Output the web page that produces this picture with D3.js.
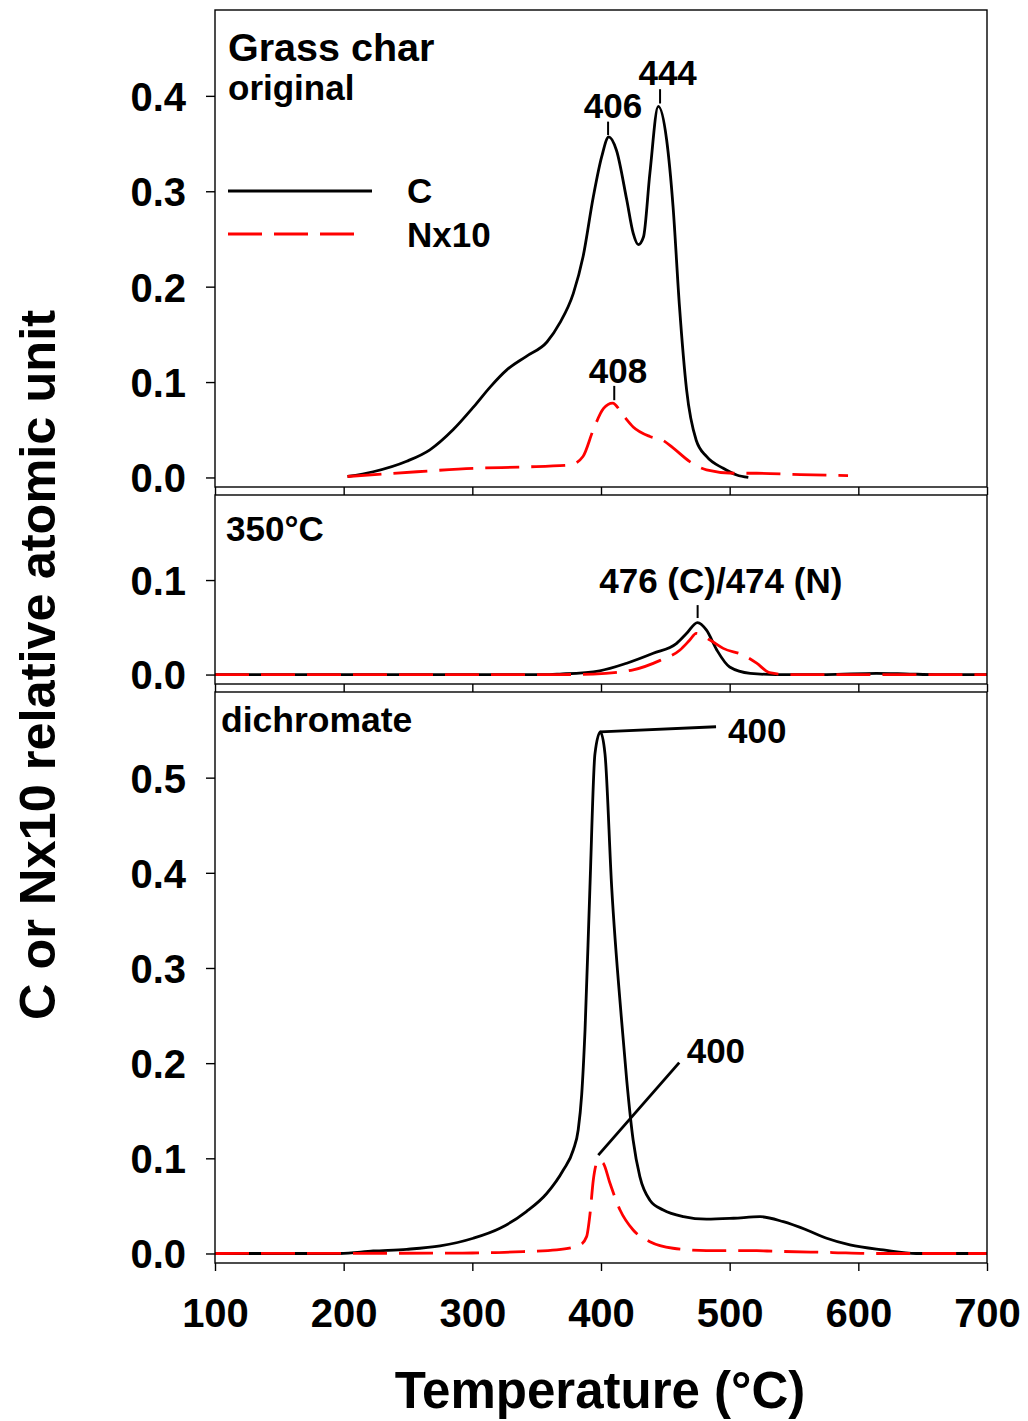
<!DOCTYPE html>
<html>
<head>
<meta charset="utf-8">
<script src="https://cdn.jsdelivr.net/npm/d3@7"></script>
<style>
  body { margin: 0; background: #fff; }
  svg { display: block; font-family: "Liberation Sans", Arial, sans-serif; font-weight: bold; }
</style>
</head>
<body>
<svg width="1028" height="1421"></svg>
<script>
'use strict'

// ---- data: [temperature °C, relative atomic unit] ----
const xTicks = [100, 200, 300, 400, 500, 600, 700];

const origC = [
  [203, 0.001], [223, 0.006], [249, 0.017], [267, 0.029], [285, 0.05], [301, 0.074],
  [314, 0.095], [327, 0.113], [342, 0.127], [358, 0.142], [368, 0.162], [378.5, 0.193],
  [386, 0.231], [394, 0.294], [400.5, 0.336], [406, 0.357], [412, 0.343], [420, 0.291],
  [425, 0.256], [429, 0.244], [433, 0.252], [438, 0.319], [444.5, 0.389], [451, 0.354],
  [456, 0.284], [461, 0.179], [466.5, 0.092], [474, 0.039], [482, 0.022], [495, 0.0096],
  [505.5, 0.0026], [514.5, 0.0]
];
const origN = [
  [203, 0.001], [257, 0.006], [301, 0.0096], [340, 0.011], [376, 0.013], [386, 0.022],
  [394, 0.05], [402, 0.0725], [409, 0.078], [417, 0.0655], [425, 0.053], [438, 0.043],
  [448, 0.039], [456, 0.031], [469, 0.0166], [482, 0.008], [503, 0.0044], [521, 0.0044],
  [555, 0.003], [592, 0.002]
];

const p350C = [
  [100, 0], [360, 0], [368, 0.0005], [399, 0.004], [420, 0.012], [440.6, 0.0225],
  [458.8, 0.033], [466.6, 0.0436], [475, 0.055], [482, 0.047], [490, 0.026], [500, 0.008],
  [516, 0.0013], [536, 0], [575, 0], [614, 0.0013], [640, 0.0005], [660, 0], [700, 0]
];
const p350N = [
  [100, 0], [368, 0], [394, 0.0005], [425, 0.005], [446, 0.015], [461.4, 0.026],
  [469, 0.0365], [474, 0.0436], [484.7, 0.0365], [495, 0.0277], [510.6, 0.0206],
  [521, 0.012], [531, 0.002], [545, 0], [700, 0]
];

const dichC = [
  [100, 0], [197, 0], [223, 0.0026], [249, 0.0044], [275, 0.008], [300.7, 0.016],
  [321.5, 0.0265], [342, 0.044], [357.8, 0.063], [370.7, 0.0877], [378.5, 0.109],
  [382.3, 0.13], [385, 0.167], [387.6, 0.235], [391.4, 0.385],
  [395.3, 0.525], [399.5, 0.548], [403.1, 0.525], [408.3, 0.385], [416, 0.245],
  [420, 0.182], [425, 0.119], [430.2, 0.0807], [438, 0.056], [448.4, 0.0457],
  [464, 0.0387], [482, 0.036], [503, 0.037], [523.6, 0.0387], [541.7, 0.0334],
  [559.9, 0.0247], [575.4, 0.016], [593.5, 0.009], [619.4, 0.0037], [645, 0], [700, 0]
];
const dichN = [
  [100, 0], [300, 0.0005], [339.6, 0.002], [365.6, 0.0037], [383.7, 0.009], [388.8, 0.0177],
  [391.5, 0.042], [394, 0.077], [398, 0.098], [401.8, 0.0948], [407, 0.0738],
  [414.8, 0.0457], [425, 0.0247], [438, 0.0124], [456, 0.0055], [482, 0.003],
  [521, 0.003], [529, 0.0026], [580, 0.001], [610, 0], [700, 0]
];

// ---- layout ----
const FONT = '"Liberation Sans", Arial, sans-serif';
const left = 215, right = 987;
const LW = 2.8;

const panels = [
  { top: 10, bottom: 487, ymin: -0.01, ymax: 0.49, ticks: [0, 0.1, 0.2, 0.3, 0.4], c: origC, n: origN },
  { top: 495, bottom: 684, ymin: -0.01, ymax: 0.19, ticks: [0, 0.1], c: p350C, n: p350N },
  { top: 692, bottom: 1263, ymin: -0.01, ymax: 0.59, ticks: [0, 0.1, 0.2, 0.3, 0.4, 0.5], c: dichC, n: dichN }
];

const svg = d3.select('svg');
const x = d3.scaleLinear().domain([100, 700]).range([left, right]);

panels.forEach((p, i) => {
  const y = d3.scaleLinear().domain([p.ymin, p.ymax]).range([p.bottom, p.top]);
  p.y = y;
  const g = svg.append('g');

  const line = d3.line()
    .x(d => x(d[0]))
    .y(d => y(d[1]))
    .curve(d3.curveMonotoneX);

  g.append('path')
    .datum(p.c)
    .attr('d', line)
    .attr('fill', 'none')
    .attr('stroke', '#000')
    .attr('stroke-width', LW);

  g.append('path')
    .datum(p.n)
    .attr('d', line)
    .attr('fill', 'none')
    .attr('stroke', '#ff0000')
    .attr('stroke-width', LW)
    .attr('stroke-dasharray', '34,12');

  // frame
  g.append('rect')
    .attr('x', left).attr('y', p.top)
    .attr('width', right - left).attr('height', p.bottom - p.top)
    .attr('fill', 'none').attr('stroke', '#000').attr('stroke-width', 1.4);

  // y axis
  const ya = g.append('g')
    .attr('transform', `translate(${left},0)`)
    .call(d3.axisLeft(y).tickValues(p.ticks).tickFormat(d3.format('.1f')).tickSize(9).tickPadding(20));
  ya.select('.domain').remove();
  ya.selectAll('line').attr('stroke-width', 1.4);
  ya.selectAll('text')
    .attr('font-family', FONT).attr('font-weight', 'bold').attr('font-size', 40)
    .attr('fill', '#000').attr('dy', '0.36em');

  // x axis ticks (labels only on bottom panel)
  const xa = g.append('g')
    .attr('transform', `translate(0,${p.bottom})`)
    .call(d3.axisBottom(x).tickValues(xTicks).tickSize(8).tickPadding(28)
      .tickFormat(i === panels.length - 1 ? d3.format('d') : ''));
  xa.select('.domain').remove();
  xa.selectAll('line').attr('stroke-width', 1.4);
  xa.selectAll('text')
    .attr('font-family', FONT).attr('font-weight', 'bold').attr('font-size', 40)
    .attr('fill', '#000');
});

const [p1, p2, p3] = panels;

// ---- panel labels ----
function label(txt, px, py, size, anchor) {
  svg.append('text')
    .attr('x', px).attr('y', py)
    .attr('font-family', FONT).attr('font-weight', 'bold')
    .attr('font-size', size)
    .attr('text-anchor', anchor || 'start')
    .text(txt);
}
label('Grass char', 228, 61, 39.5);
label('original', 228, 100, 35);
label('350\u00B0C', 226, 541, 35);
label('dichromate', 221, 732, 35.5);

// ---- legend ----
svg.append('line')
  .attr('x1', 228).attr('x2', 372).attr('y1', 191).attr('y2', 191)
  .attr('stroke', '#000').attr('stroke-width', LW);
svg.append('line')
  .attr('x1', 228).attr('x2', 358).attr('y1', 234).attr('y2', 234)
  .attr('stroke', '#ff0000').attr('stroke-width', LW).attr('stroke-dasharray', '34,12');
label('C', 407, 203, 35);
label('Nx10', 407, 247, 35);

// ---- peak annotations (data units) ----
function tick(p, t, v1, v2) {
  svg.append('line')
    .attr('x1', x(t)).attr('x2', x(t))
    .attr('y1', p.y(v1)).attr('y2', p.y(v2))
    .attr('stroke', '#000').attr('stroke-width', 2);
}
function leader(p, t1, v1, t2, v2) {
  svg.append('line')
    .attr('x1', x(t1)).attr('y1', p.y(v1))
    .attr('x2', x(t2)).attr('y2', p.y(v2))
    .attr('stroke', '#000').attr('stroke-width', LW);
}
function note(p, txt, t, v, anchor) {
  label(txt, x(t), p.y(v), 35, anchor || 'middle');
}

tick(p1, 405.5, 0.373, 0.359);
note(p1, '406', 409.3, 0.377);
tick(p1, 445.9, 0.407, 0.392);
note(p1, '444', 451.8, 0.411);
tick(p1, 410.3, 0.096, 0.081);
note(p1, '408', 413.2, 0.0994);

tick(p2, 475.1, 0.0735, 0.0598);
note(p2, '476 (C)/474 (N)', 493.1, 0.0862);

leader(p3, 399.5, 0.548, 489.4, 0.5535);
note(p3, '400', 498.7, 0.536, 'start');
leader(p3, 397.9, 0.1034, 460.8, 0.2005);
note(p3, '400', 466.6, 0.2, 'start');

// ---- axis titles ----
svg.append('text')
  .attr('x', 600).attr('y', 1408)
  .attr('text-anchor', 'middle')
  .attr('font-family', FONT).attr('font-weight', 'bold').attr('font-size', 51)
  .text('Temperature (\u00B0C)');

svg.append('text')
  .attr('transform', 'translate(55,665) rotate(-90)')
  .attr('text-anchor', 'middle')
  .attr('font-family', FONT).attr('font-weight', 'bold').attr('font-size', 50.5)
  .text('C or Nx10 relative atomic unit');
</script>
</body>
</html>
